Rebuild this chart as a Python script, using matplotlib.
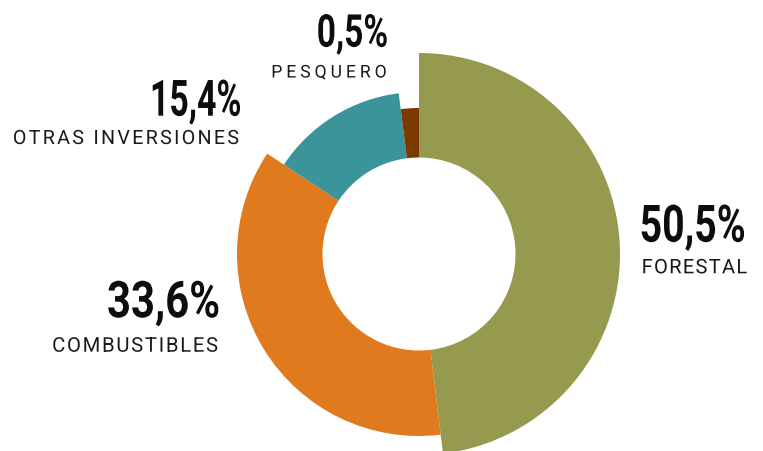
import matplotlib
matplotlib.use('Agg')
import matplotlib.pyplot as plt
import numpy as np
from matplotlib.patches import Wedge, PathPatch
from matplotlib.textpath import TextPath
from matplotlib.path import Path
from matplotlib.font_manager import FontProperties
from matplotlib.transforms import Affine2D

# data
categories = ['FORESTAL', 'COMBUSTIBLES', 'OTRAS INVERSIONES', 'PESQUERO']
pct_labels = ['50,5%', '33,6%', '15,4%', '0,5%']
arc_share = [48.1, 36.2, 13.7, 2.0]     # angular share of each slice as drawn
radius_z = [201, 182, 162, 146]          # outer radius of each slice (px)
colors = ['#959a4f', '#e07a1e', '#3a949a', '#7a3a00']

inner_r = 96.5
cx, cy = 419, 254

fig = plt.figure(figsize=(7.63, 4.51), dpi=100)
ax = fig.add_axes([0, 0, 1, 1])
ax.set_xlim(0, 763)
ax.set_ylim(451, 0)
ax.set_aspect('equal')
ax.axis('off')

# y axis points down, so wedge angles run clockwise on screen; start at 12 o'clock
angles = np.concatenate([[0], np.cumsum(arc_share)]) / sum(arc_share) * 360
for i in range(len(categories)):
    w = Wedge((cx, cy), radius_z[i], -90 + angles[i], -90 + angles[i+1],
              width=radius_z[i] - inner_r, facecolor=colors[i], edgecolor='none')
    ax.add_patch(w)

bold = FontProperties(family=['Roboto', 'DejaVu Sans'], weight='bold')
regular = FontProperties(family=['Roboto', 'DejaVu Sans'], weight='normal')


def draw_text(s, x0, x1, top, base, prop, color, track=False):
    # glyph outlines fitted into a box: condensed for numbers, tracked for labels
    ref = TextPath((0, 0), s[0] if not s[0].isalpha() else 'H', size=1, prop=prop)
    cap = ref.get_extents().ymax
    sy = (base - top) / cap
    paths = []
    xpos = 0
    for c in s:
        if c != ' ':
            paths.append((c, xpos))
        xpos += TextPath((0, 0), c + '|', size=1, prop=prop).get_extents().xmax \
            - TextPath((0, 0), '|', size=1, prop=prop).get_extents().xmax
    idxs = [j for j, ch in enumerate(s) if ch != ' ']
    def build(spacing):
        ps = []
        for k, (c, xp) in enumerate(paths):
            ps.append(TextPath((xp + idxs[k] * spacing, 0), c, size=1, prop=prop))
        return Path.make_compound_path(*ps)
    if track:
        p0 = build(0)
        sp = ((x1 - x0) / sy - p0.get_extents().width) / (len(s) - 1)
        path = build(sp)
        sx = sy
    else:
        path = TextPath((0, 0), s, size=1, prop=prop)
        sx = (x1 - x0) / path.get_extents().width
    ex = path.get_extents()
    t = Affine2D().translate(-ex.xmin, 0).scale(sx, -sy).translate(x0, base)
    ax.add_patch(PathPatch(t.transform_path(path), facecolor=color, edgecolor='none'))


dark = '#0d0d0d'
label_col = '#1a1a1a'
draw_text(pct_labels[3], 318.3, 386.7, 14, 46.7, bold, dark)
draw_text(categories[3], 272.7, 385.7, 65, 77.5, regular, label_col, track=True)
draw_text(pct_labels[2], 152.7, 240.0, 80, 115.7, bold, dark)
draw_text(categories[2], 14.0, 238.3, 130, 144, regular, label_col, track=True)
draw_text(pct_labels[1], 108.3, 218.3, 280.7, 317.3, bold, dark)
draw_text(categories[1], 53.3, 217.3, 337.3, 351.7, regular, label_col, track=True)
draw_text(pct_labels[0], 641.7, 744.0, 205, 241.7, bold, dark)
draw_text(categories[0], 643.3, 746.7, 259, 273.3, regular, label_col, track=True)

plt.savefig('out.png', dpi=100)
